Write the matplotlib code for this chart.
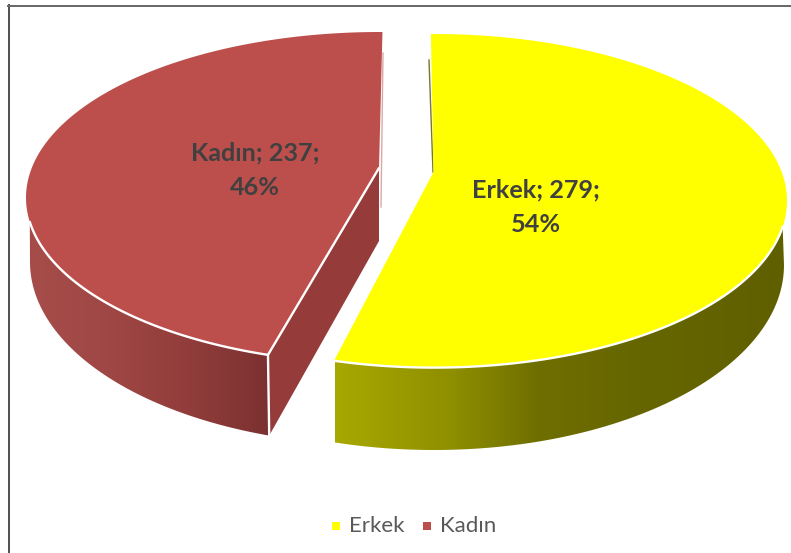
#!/usr/bin/env python3
import numpy as np
import matplotlib
matplotlib.use("Agg")
import matplotlib.pyplot as plt
from matplotlib.colors import LinearSegmentedColormap
from matplotlib.patches import Polygon, Rectangle

# ── Data ──────────────────────────────────────────────────────
CATEGORIES = ["Erkek", "Kadın"]
VALUES = [279, 237]
TOP_COLORS = ["#FFFF00", "#BC4F4C"]
TEXT_LABEL = "#404040"
TEXT_LEGEND = "#595959"
FONT = "Lato"

plt.rcParams["font.family"] = [FONT, "DejaVu Sans"]


# ── Helpers ───────────────────────────────────────────────────
def ellipse(cx, cy, a, b, t_deg):
    # t measured clockwise from the top of the ellipse
    t = np.radians(t_deg)
    return np.column_stack([cx + a * np.sin(t), cy - b * np.cos(t)])


def gradient_wall(ax, pts, xs, colors, z):
    cmap = LinearSegmentedColormap.from_list("w", list(zip((np.array(xs) - xs[0]) / (xs[-1] - xs[0]), colors)))
    grad = np.linspace(0, 1, 256)[np.newaxis]
    im = ax.imshow(grad, cmap=cmap, extent=[xs[0], xs[-1], 553, 0], aspect="auto",
                   zorder=z, interpolation="bilinear")
    patch = Polygon(pts, closed=True, transform=ax.transData, fc="none", ec="none")
    ax.add_patch(patch)
    im.set_clip_path(patch)


fig = plt.figure(figsize=(7.91, 5.53), dpi=100)
ax = fig.add_axes([0, 0, 1, 1])

# share of the circle, in degrees
total = sum(VALUES)
sweep = [360 * v / total for v in VALUES]

# ── Kadın ─────────────────────────────────────────────────────
top = dict(cx=380, cy=197.7, a=354, b=165.7)
low = dict(cx=380, cy=262, a=350, b=183)
apex = np.array([379, 168])
t_tip = 360.4
t_cut = t_tip - sweep[1] + 3.4

rim = ellipse(t_deg=np.linspace(t_cut, 261.6, 80), **top)
base = ellipse(t_deg=np.linspace(270, t_cut, 80), **low)
gradient_wall(ax, np.vstack([rim, base]), [28, 100, 180, 272],
              ["#A64D4A", "#A04846", "#933E3C", "#7A3130"], 1)

corner_top = ellipse(t_deg=np.array([t_cut]), **top)[0]
corner_low = ellipse(t_deg=np.array([t_cut]), **low)[0]
ax.add_patch(Polygon([apex, corner_top, corner_low, [379, 241]], closed=True,
                     fc="#953C3A", ec="none", zorder=2))
arc = ellipse(t_deg=np.linspace(t_cut, t_tip, 200), **top)
ax.add_patch(Polygon(np.vstack([apex, arc]), closed=True, fc=TOP_COLORS[1], ec="none", zorder=3))
ax.plot(*np.vstack([apex, rim]).T, color="white", lw=1.7, zorder=4, solid_capstyle="round")
ax.plot(*np.vstack([corner_top, corner_low]).T, color="white", lw=1.7, zorder=4)
ax.plot([383, 381], [53, 207], color="#D8A9A7", lw=1.0, zorder=2)

# ── Erkek ─────────────────────────────────────────────────────
top = dict(cx=434, cy=200.8, a=353, b=166.8)
low = dict(cx=434, cy=265, a=350, b=185)
apex = np.array([433.5, 172])
t_tip = -0.5
t_cut = t_tip + sweep[0] + 2.3

rim = ellipse(t_deg=np.linspace(t_cut, 99, 80), **top)
base = ellipse(t_deg=np.linspace(90, t_cut, 80), **low)
gradient_wall(ax, np.vstack([rim, base]), [335, 450, 540, 640, 790],
              ["#A8A800", "#8F8F00", "#6E6E00", "#666600", "#5F5F00"], 1)

arc = ellipse(t_deg=np.linspace(t_tip, t_cut, 200), **top)
ax.plot([429, 433], [60, 172], color="#77772A", lw=1.0, zorder=2)
ax.add_patch(Polygon(np.vstack([apex, arc]), closed=True, fc=TOP_COLORS[0], ec="none", zorder=3))
ax.plot(*rim.T, color="white", lw=1.7, zorder=4)

# ── Labels ────────────────────────────────────────────────────
pct = [round(100 * v / total) for v in VALUES]
for name, val, p, (lx, ly) in zip(CATEGORIES, VALUES, pct, [(536, 207), (255, 170)]):
    ax.text(lx, ly, f"{name}; {val};\n{p}%", ha="center", va="center", fontsize=18.2,
            fontweight="bold", color=TEXT_LABEL, linespacing=1.6, zorder=6)

# ── Legend ────────────────────────────────────────────────────
for name, col, mx, tx in zip(CATEGORIES, TOP_COLORS, [331.5, 422.5], [349, 440]):
    ax.add_patch(Rectangle((mx, 522), 8, 8, fc=col, ec="none", zorder=6))
    ax.text(tx, 526, name, ha="left", va="center", fontsize=16, color=TEXT_LEGEND, zorder=6)

# ── Frame ─────────────────────────────────────────────────────
ax.plot([8.5, 8.5], [5, 553], color="#505050", lw=1.4, zorder=7)
ax.plot([8, 791], [5.5, 5.5], color="#666666", lw=1.4, zorder=7)

ax.set_xlim(0, 791)
ax.set_ylim(553, 0)
ax.axis("off")

fig.savefig("out.png", dpi=100, facecolor="white")
